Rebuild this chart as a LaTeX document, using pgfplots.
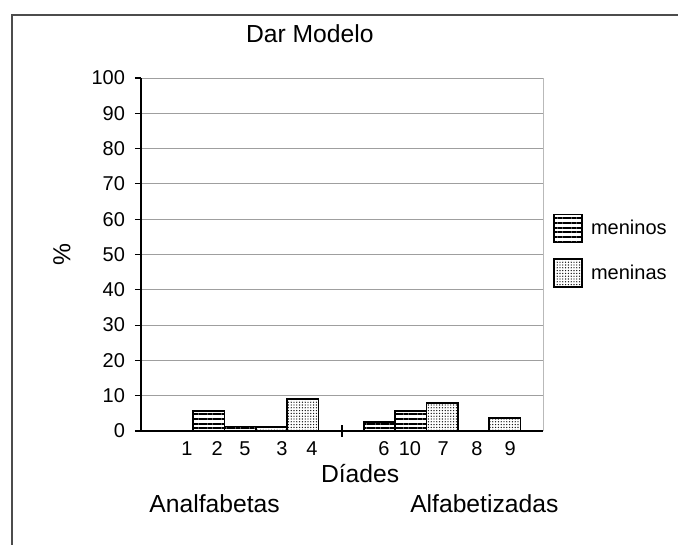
\documentclass[border=0pt]{standalone}
\usepackage{fontspec}
\setmainfont{Liberation Sans}
\usepackage{pgfplots}
\pgfplotsset{compat=1.18}
\usetikzlibrary{patterns.meta}

\newcommand{\bigfont}{\fontsize{18.5pt}{21pt}\selectfont}
\newcommand{\smallfont}{\fontsize{15pt}{18pt}\selectfont}

\begin{document}
\begin{tikzpicture}
\useasboundingbox (-105.75pt,-85.5pt) rectangle (402.75pt,323.25pt);
% outer chart frame
\draw[gray!60!black, line width=0.8pt] (-96.75pt,-95pt) -- (-96.75pt,312pt) -- (410pt,312pt);
\begin{axis}[
  at={(0pt,0pt)}, anchor=south west,
  scale only axis, width=301.5pt, height=264.75pt,
  xmin=-0.17, xmax=12.67, ymin=0, ymax=100,
  ybar, bar width=1,
  axis x line*=bottom, axis y line*=left,
  axis line style={black, line width=0.9pt},
  ytick={0,10,...,100},
  ymajorgrids, grid style={gray!75, line width=0.6pt},
  tick align=outside, major tick length=4.5pt,
  y tick style={black, line width=0.8pt},
  x tick style={draw=none},
  xtick={1.30,2.26,3.15,4.33,5.29,7.59,8.42,9.48,10.56,11.62},
  xticklabels={1,2,5,3,4,6,10,7,8,9},
  extra x ticks={6.25},
  extra x tick labels={},
  extra x tick style={tick align=center, major tick length=9pt,
    x tick style={draw=black, line width=0.8pt}},
  /pgf/number format/assume math mode=true,
  tick label style={font=\smallfont},
  yticklabel style={xshift=-4pt},
  title={Dar Modelo},
  title style={at={(axis description cs:0.420,1.079)}, anchor=base, font=\bigfont, inner sep=0pt},
  xlabel={Díades},
  xlabel style={at={(axis description cs:0.545,-0.1445)}, anchor=base, font=\bigfont, inner sep=0pt},
  ylabel={\%},
  ylabel style={at={(axis description cs:-0.197,0.4986)}, anchor=center, font=\bigfont, inner sep=0pt},
  legend style={draw=none, fill=none, at={(axis description cs:1.025,0.511)}, anchor=west,
    font=\smallfont, inner sep=0pt, row sep=11pt,
    nodes={inner xsep=6pt}},
  legend cell align=left,
  legend image code/.code={\draw[#1] (0pt,-10.5pt) rectangle (21pt,10.5pt);},
  clip=false,
]
\addplot[bar shift=0pt, draw=black, line width=1.3pt, preaction={fill=white},
  pattern={Lines[angle=0,distance=3.5pt,line width=1.5pt]}]
  coordinates {(2,5.6) (3,1.3) (7.45,2.6) (8.45,5.6)};
\addlegendentry{meninos}
\addplot[bar shift=0pt, draw=black, line width=1.3pt, preaction={fill=white},
  pattern={Dots[distance=2.1pt,radius=0.5pt]}]
  coordinates {(4,1.1) (5,9.0) (9.45,7.9) (11.45,3.7)};
\addlegendentry{meninas}
% right edge of the plot area
\draw[gray!55, line width=0.6pt] (rel axis cs:1,0) -- (rel axis cs:1,1);
% group names under the axis
\node[font=\bigfont, anchor=base, inner sep=0pt] at (axis description cs:0.183,-0.232) {Analfabetas};
\node[font=\bigfont, anchor=base, inner sep=0pt] at (axis description cs:0.854,-0.232) {Alfabetizadas};
\end{axis}
\end{tikzpicture}
\end{document}
